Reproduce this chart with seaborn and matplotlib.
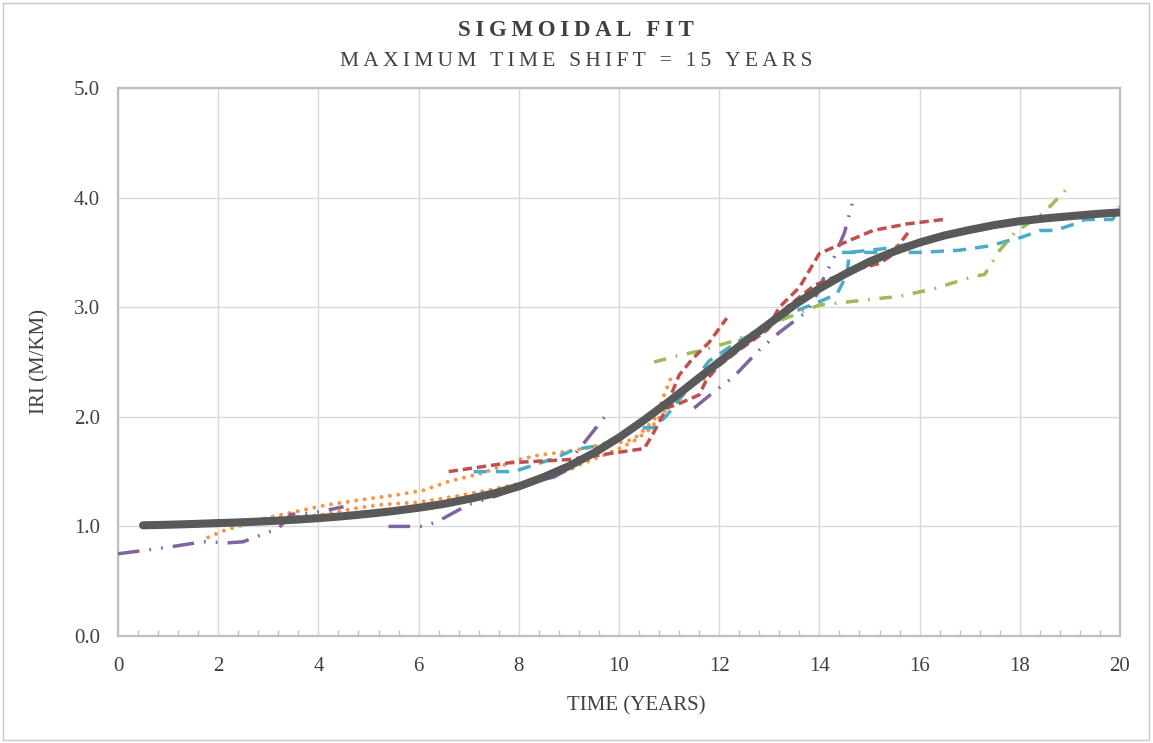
import numpy as np
import pandas as pd
import matplotlib
matplotlib.use("Agg")
import matplotlib.pyplot as plt
import seaborn as sns
from matplotlib.patches import Rectangle
from matplotlib.ticker import MultipleLocator, FormatStrFormatter

# ---------------- data ----------------
fit_x = [0.5, 1, 1.5, 2, 2.5, 3, 3.5, 4, 4.5, 5, 5.5, 6, 6.5, 7, 7.5, 8, 8.5, 9, 9.5, 10,
         10.5, 11, 11.5, 12, 12.5, 13, 13.5, 14, 14.5, 15, 15.5, 16, 16.5, 17, 17.5, 18,
         18.5, 19, 19.5, 20]
fit_y = [1.010, 1.015, 1.022, 1.030, 1.038, 1.048, 1.060, 1.075, 1.093, 1.115, 1.14, 1.17,
         1.205, 1.25, 1.30, 1.365, 1.45, 1.55, 1.67, 1.81, 1.97, 2.14, 2.32, 2.50, 2.68,
         2.85, 3.02, 3.17, 3.30, 3.415, 3.51, 3.59, 3.655, 3.705, 3.75, 3.785, 3.81, 3.83,
         3.85, 3.865]

orange1_x = [1.8, 2.1, 2.4, 2.9, 3.4, 4.1, 4.8, 5.6, 6.1, 6.6, 7.3, 8.0, 8.4, 8.9, 9.3, 9.8,
             10.1, 10.3, 10.5, 10.75, 10.9, 11.06]
orange1_y = [0.90, 0.96, 1.00, 1.07, 1.12, 1.19, 1.24, 1.29, 1.33, 1.41, 1.49, 1.61, 1.65,
             1.68, 1.71, 1.76, 1.77, 1.80, 1.88, 2.00, 2.20, 2.38]
orange2_x = [2.9, 4.0, 4.8, 5.3, 6.0, 6.8, 7.5, 8.2, 8.7, 9.0, 9.2, 9.8, 10.0, 10.3, 10.6,
             11.0, 11.5, 11.8]
orange2_y = [1.07, 1.10, 1.17, 1.20, 1.22, 1.28, 1.34, 1.41, 1.48, 1.51, 1.56, 1.67, 1.71,
             1.78, 1.88, 2.10, 2.30, 2.37]

red1_x = [6.6, 7.8, 9.0, 9.9, 10.5, 10.65, 10.8, 10.95, 11.2, 11.6, 11.75, 12.0, 12.4, 12.95,
          13.35, 13.9, 14.6, 15.2, 15.4, 15.77]
red1_y = [1.50, 1.58, 1.61, 1.67, 1.71, 1.82, 1.95, 2.08, 2.12, 2.20, 2.34, 2.47, 2.61, 2.79,
          3.00, 3.20, 3.33, 3.40, 3.46, 3.68]
red2_x = [10.95, 11.2, 11.45, 11.8, 12.15]
red2_y = [2.10, 2.38, 2.52, 2.68, 2.90]
red3_x = [12.95, 13.2, 13.6, 14.0, 14.4, 15.07, 15.75, 16.47]
red3_y = [2.79, 3.00, 3.18, 3.49, 3.57, 3.70, 3.76, 3.80]

purple1_x = [0.0, 0.5, 1.0, 1.7, 2.2, 2.5, 2.9, 3.2, 3.45, 3.85, 4.2, 4.5]
purple1_y = [0.75, 0.78, 0.81, 0.86, 0.85, 0.86, 0.93, 0.98, 1.11, 1.12, 1.15, 1.18]
purple2_x = [5.4, 6.1, 6.4, 6.6, 7.0, 7.5, 8.0, 8.4, 8.7, 8.9, 9.1, 9.3, 9.8]
purple2_y = [1.00, 1.00, 1.05, 1.10, 1.20, 1.27, 1.35, 1.42, 1.45, 1.50, 1.65, 1.76, 2.05]
purple3_x = [11.5, 11.9, 12.3, 12.8, 13.2, 13.75, 13.9, 14.1, 14.3, 14.5, 14.7]
purple3_y = [2.08, 2.23, 2.37, 2.61, 2.77, 2.96, 3.07, 3.28, 3.46, 3.68, 4.02]

aqua1_x = [7.1, 7.9, 8.3, 8.7, 9.1, 9.5, 9.9, 10.3, 10.7, 10.95, 11.4, 11.8, 12.35, 13.0,
           13.5, 14.0, 14.35, 14.55, 14.6, 15.4, 16.0, 16.3]
aqua1_y = [1.50, 1.50, 1.56, 1.62, 1.70, 1.73, 1.78, 1.90, 1.90, 2.01, 2.27, 2.51, 2.68, 2.84,
           2.96, 3.05, 3.12, 3.30, 3.50, 3.54, 3.60, 3.61]
aqua2_x = [14.45, 15.0, 16.0, 16.8, 17.4, 17.8, 18.05, 18.4, 18.7, 19.1, 19.3, 19.85, 20.0]
aqua2_y = [3.50, 3.50, 3.50, 3.52, 3.56, 3.61, 3.64, 3.70, 3.70, 3.76, 3.80, 3.80, 3.92]

green1_x = [1.2, 2.0, 2.6]
green1_y = [1.02, 1.05, 1.05]
green2_x = [10.7, 11.2, 11.6, 12.2, 12.6, 13.0, 13.5, 14.0, 14.8, 15.6, 16.3, 17.0, 17.3,
            17.6, 17.9, 18.5, 19.0]
green2_y = [2.50, 2.56, 2.60, 2.68, 2.75, 2.84, 2.93, 3.02, 3.06, 3.10, 3.17, 3.27, 3.30,
            3.52, 3.68, 3.87, 4.11]

x_ticks = list(range(0, 21, 2))
y_ticks = [0.0, 1.0, 2.0, 3.0, 4.0, 5.0]
title_text = "SIGMOIDAL FIT"
subtitle_text = "MAXIMUM TIME SHIFT = 15 YEARS"
xlabel_text = "TIME (YEARS)"
ylabel_text = "IRI (M/KM)"

# ---------------- styling ----------------
sns.set_theme(style="white")
plt.rcParams['font.family'] = ['Liberation Serif', 'DejaVu Serif']

C_RED = "#C0504D"
C_GREEN = "#9BBB59"
C_PURPLE = "#8064A2"
C_AQUA = "#4BACC6"
C_ORANGE = "#F79646"
C_FIT = "#595959"
C_TEXT = "#404040"
C_GRID = "#D9D9D9"
C_AXIS = "#BFBFBF"

S_RED = (0, (2.7, 1.4))
S_AQUA = (0, (3.8, 2.6))
S_GREEN = (0, (3.6, 2.8, 0.5, 2.8))
S_PURPLE = (0, (6.2, 2.9, 0.5, 2.9, 0.5, 2.9))
S_ORANGE = (0, (0.01, 2.1))

fig = plt.figure(figsize=(11.53, 7.43), dpi=100)
ax = fig.add_axes([118 / 1153, 1 - 636 / 743, (1120 - 118) / 1153, (636 - 88) / 743])

LW = 2.5


def draw(xs, ys, color, ls, lw=LW, cap="butt", z=3):
    df = pd.DataFrame({"x": xs, "y": ys})
    sns.lineplot(data=df, x="x", y="y", sort=False, estimator=None, color=color,
                 linewidth=lw, linestyle=ls, dash_capstyle=cap, ax=ax, zorder=z)


draw(green1_x, green1_y, C_GREEN, S_GREEN)
draw(orange1_x, orange1_y, C_ORANGE, S_ORANGE, lw=2.9, cap="round")
draw(orange2_x, orange2_y, C_ORANGE, S_ORANGE, lw=2.9, cap="round")
draw(purple1_x, purple1_y, C_PURPLE, S_PURPLE)
draw(purple2_x, purple2_y, C_PURPLE, S_PURPLE)
draw(purple3_x, purple3_y, C_PURPLE, S_PURPLE)
draw(aqua1_x, aqua1_y, C_AQUA, S_AQUA)
draw(aqua2_x, aqua2_y, C_AQUA, S_AQUA)
draw(green2_x, green2_y, C_GREEN, S_GREEN)
draw(red1_x, red1_y, C_RED, S_RED)
draw(red2_x, red2_y, C_RED, S_RED)
draw(red3_x, red3_y, C_RED, S_RED)
draw(fit_x, fit_y, C_FIT, "-", lw=5.8, z=5)
ax.lines[-1].set_solid_capstyle("round")
ax.lines[-1].set_solid_joinstyle("round")

ax.set_xlim(0, 20)
ax.set_ylim(0, 5)
ax.set_xticks(x_ticks)
ax.set_yticks(y_ticks)
ax.yaxis.set_major_formatter(FormatStrFormatter("%.1f"))
ax.xaxis.set_minor_locator(MultipleLocator(0.4))
ax.grid(True, which="major", color=C_GRID, linewidth=1.0)
ax.set_axisbelow(True)
for s in ax.spines.values():
    s.set_visible(True)
    s.set_color(C_AXIS)
    s.set_linewidth(1.6)
ax.tick_params(axis="both", which="major", direction="out", length=5, width=1,
               color=C_AXIS, labelsize=15, labelcolor=C_TEXT)
ax.tick_params(axis="y", which="major", pad=8)
ax.tick_params(axis="x", which="major", pad=10)
ax.tick_params(axis="x", which="minor", direction="in", length=4, width=1,
               color=C_AXIS, bottom=True)
ax.set_xlabel("")
ax.set_ylabel("")

TS = "\u2009"
fig.text(576 / 1153, 1 - 31 / 743, TS.join(title_text), ha="center", va="center",
         fontsize=16.5, fontweight="bold", color=C_TEXT)
fig.text(576 / 1153, 1 - 62 / 743, TS.join(subtitle_text), ha="center", va="center",
         fontsize=15.5, color=C_TEXT)
fig.text(636 / 1153, 1 - 706 / 743, xlabel_text, ha="center", va="center",
         fontsize=15, color=C_TEXT)
fig.text(40 / 1153, 1 - 362 / 743, ylabel_text, ha="center", va="center",
         rotation=90, fontsize=15, color=C_TEXT)

fig.patches.append(Rectangle((3 / 1153, 3 / 743), 1146 / 1153, 737 / 743,
                             transform=fig.transFigure, fill=False,
                             edgecolor="#C8C8C8", linewidth=1.0))

fig.savefig("out.png", dpi=100)
